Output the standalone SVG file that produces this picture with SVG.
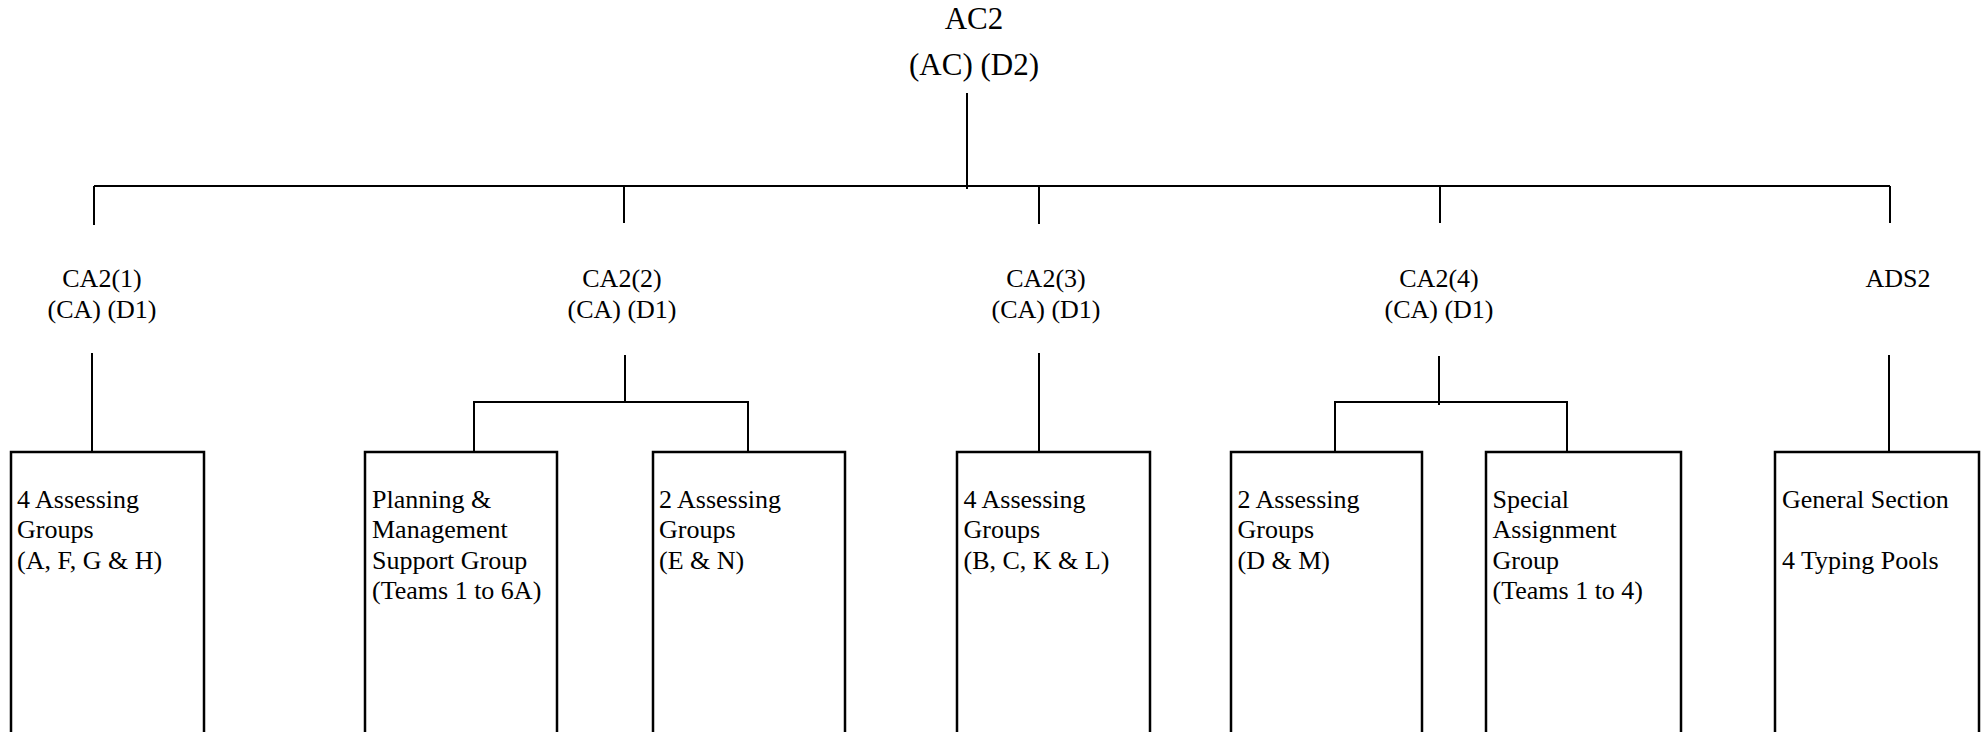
<svg xmlns="http://www.w3.org/2000/svg" width="1988" height="732" viewBox="0 0 1988 732">
  <style>
    text { font-family: 'Liberation Serif', Tinos, 'DejaVu Serif', serif; fill: #000; }
    .head { font-size: 31px; text-anchor: middle; }
    .sub { font-size: 26px; text-anchor: middle; }
    .body { font-size: 26px; }
    .box { fill: #fff; stroke: #000; stroke-width: 2.5; }
    .wire { fill: none; stroke: #000; stroke-width: 2; }
  </style>

  <rect width="1988" height="732" fill="#fff"/>

  <!-- connectors -->
  <g id="connectors" class="wire">
    <!-- top level -->
    <line x1="967" y1="93" x2="967" y2="189"/>
    <line x1="94" y1="186" x2="1890" y2="186"/>
    <line x1="94" y1="186" x2="94" y2="225"/>
    <line x1="624" y1="186" x2="624" y2="223"/>
    <line x1="1039" y1="186" x2="1039" y2="224"/>
    <line x1="1440" y1="186" x2="1440" y2="223"/>
    <line x1="1890" y1="186" x2="1890" y2="223"/>
    <!-- CA2(1) -->
    <line x1="92" y1="353" x2="92" y2="452"/>
    <!-- CA2(2) -->
    <line x1="625" y1="355" x2="625" y2="402"/>
    <polyline points="474,452 474,402 748,402 748,452"/>
    <!-- CA2(3) -->
    <line x1="1039" y1="353" x2="1039" y2="452"/>
    <!-- CA2(4) -->
    <line x1="1439" y1="356" x2="1439" y2="405"/>
    <polyline points="1335,452 1335,402 1567,402 1567,452"/>
    <!-- ADS2 -->
    <line x1="1889" y1="355" x2="1889" y2="452"/>
  </g>

  <g id="ac2">
    <text class="head" x="974" y="29">AC2</text>
    <text class="head" x="974" y="75">(AC) (D2)</text>
  </g>

  <g id="ca2-1">
    <text class="sub" x="102" y="287">CA2(1)</text>
    <text class="sub" x="102" y="318">(CA) (D1)</text>
  </g>
  <g id="ca2-2">
    <text class="sub" x="622" y="287">CA2(2)</text>
    <text class="sub" x="622" y="318">(CA) (D1)</text>
  </g>
  <g id="ca2-3">
    <text class="sub" x="1046" y="287">CA2(3)</text>
    <text class="sub" x="1046" y="318">(CA) (D1)</text>
  </g>
  <g id="ca2-4">
    <text class="sub" x="1439" y="287">CA2(4)</text>
    <text class="sub" x="1439" y="318">(CA) (D1)</text>
  </g>
  <g id="ads2">
    <text class="sub" x="1898" y="287">ADS2</text>
  </g>

  <g id="groups-afgh">
    <rect class="box" x="11" y="452" width="193" height="300"/>
    <text class="body" x="17" y="507.5">4 Assessing</text>
    <text class="body" x="17" y="538">Groups</text>
    <text class="body" x="17" y="568.5">(A, F, G &amp; H)</text>
  </g>

  <g id="planning-support">
    <rect class="box" x="365" y="452" width="192" height="300"/>
    <text class="body" x="372" y="507.5">Planning &amp;</text>
    <text class="body" x="372" y="538">Management</text>
    <text class="body" x="372" y="568.5">Support Group</text>
    <text class="body" x="372" y="599">(Teams 1 to 6A)</text>
  </g>

  <g id="groups-en">
    <rect class="box" x="653" y="452" width="192" height="300"/>
    <text class="body" x="659" y="507.5">2 Assessing</text>
    <text class="body" x="659" y="538">Groups</text>
    <text class="body" x="659" y="568.5">(E &amp; N)</text>
  </g>

  <g id="groups-bckl">
    <rect class="box" x="957" y="452" width="193" height="300"/>
    <text class="body" x="963.5" y="507.5">4 Assessing</text>
    <text class="body" x="963.5" y="538">Groups</text>
    <text class="body" x="963.5" y="568.5">(B, C, K &amp; L)</text>
  </g>

  <g id="groups-dm">
    <rect class="box" x="1231" y="452" width="191" height="300"/>
    <text class="body" x="1237.5" y="507.5">2 Assessing</text>
    <text class="body" x="1237.5" y="538">Groups</text>
    <text class="body" x="1237.5" y="568.5">(D &amp; M)</text>
  </g>

  <g id="special-assignment">
    <rect class="box" x="1486" y="452" width="195" height="300"/>
    <text class="body" x="1492.5" y="507.5">Special</text>
    <text class="body" x="1492.5" y="538">Assignment</text>
    <text class="body" x="1492.5" y="568.5">Group</text>
    <text class="body" x="1492.5" y="599">(Teams 1 to 4)</text>
  </g>

  <g id="general-section">
    <rect class="box" x="1775" y="452" width="204" height="300"/>
    <text class="body" x="1782" y="507.5">General Section</text>
    <text class="body" x="1782" y="568.5">4 Typing Pools</text>
  </g>
</svg>
